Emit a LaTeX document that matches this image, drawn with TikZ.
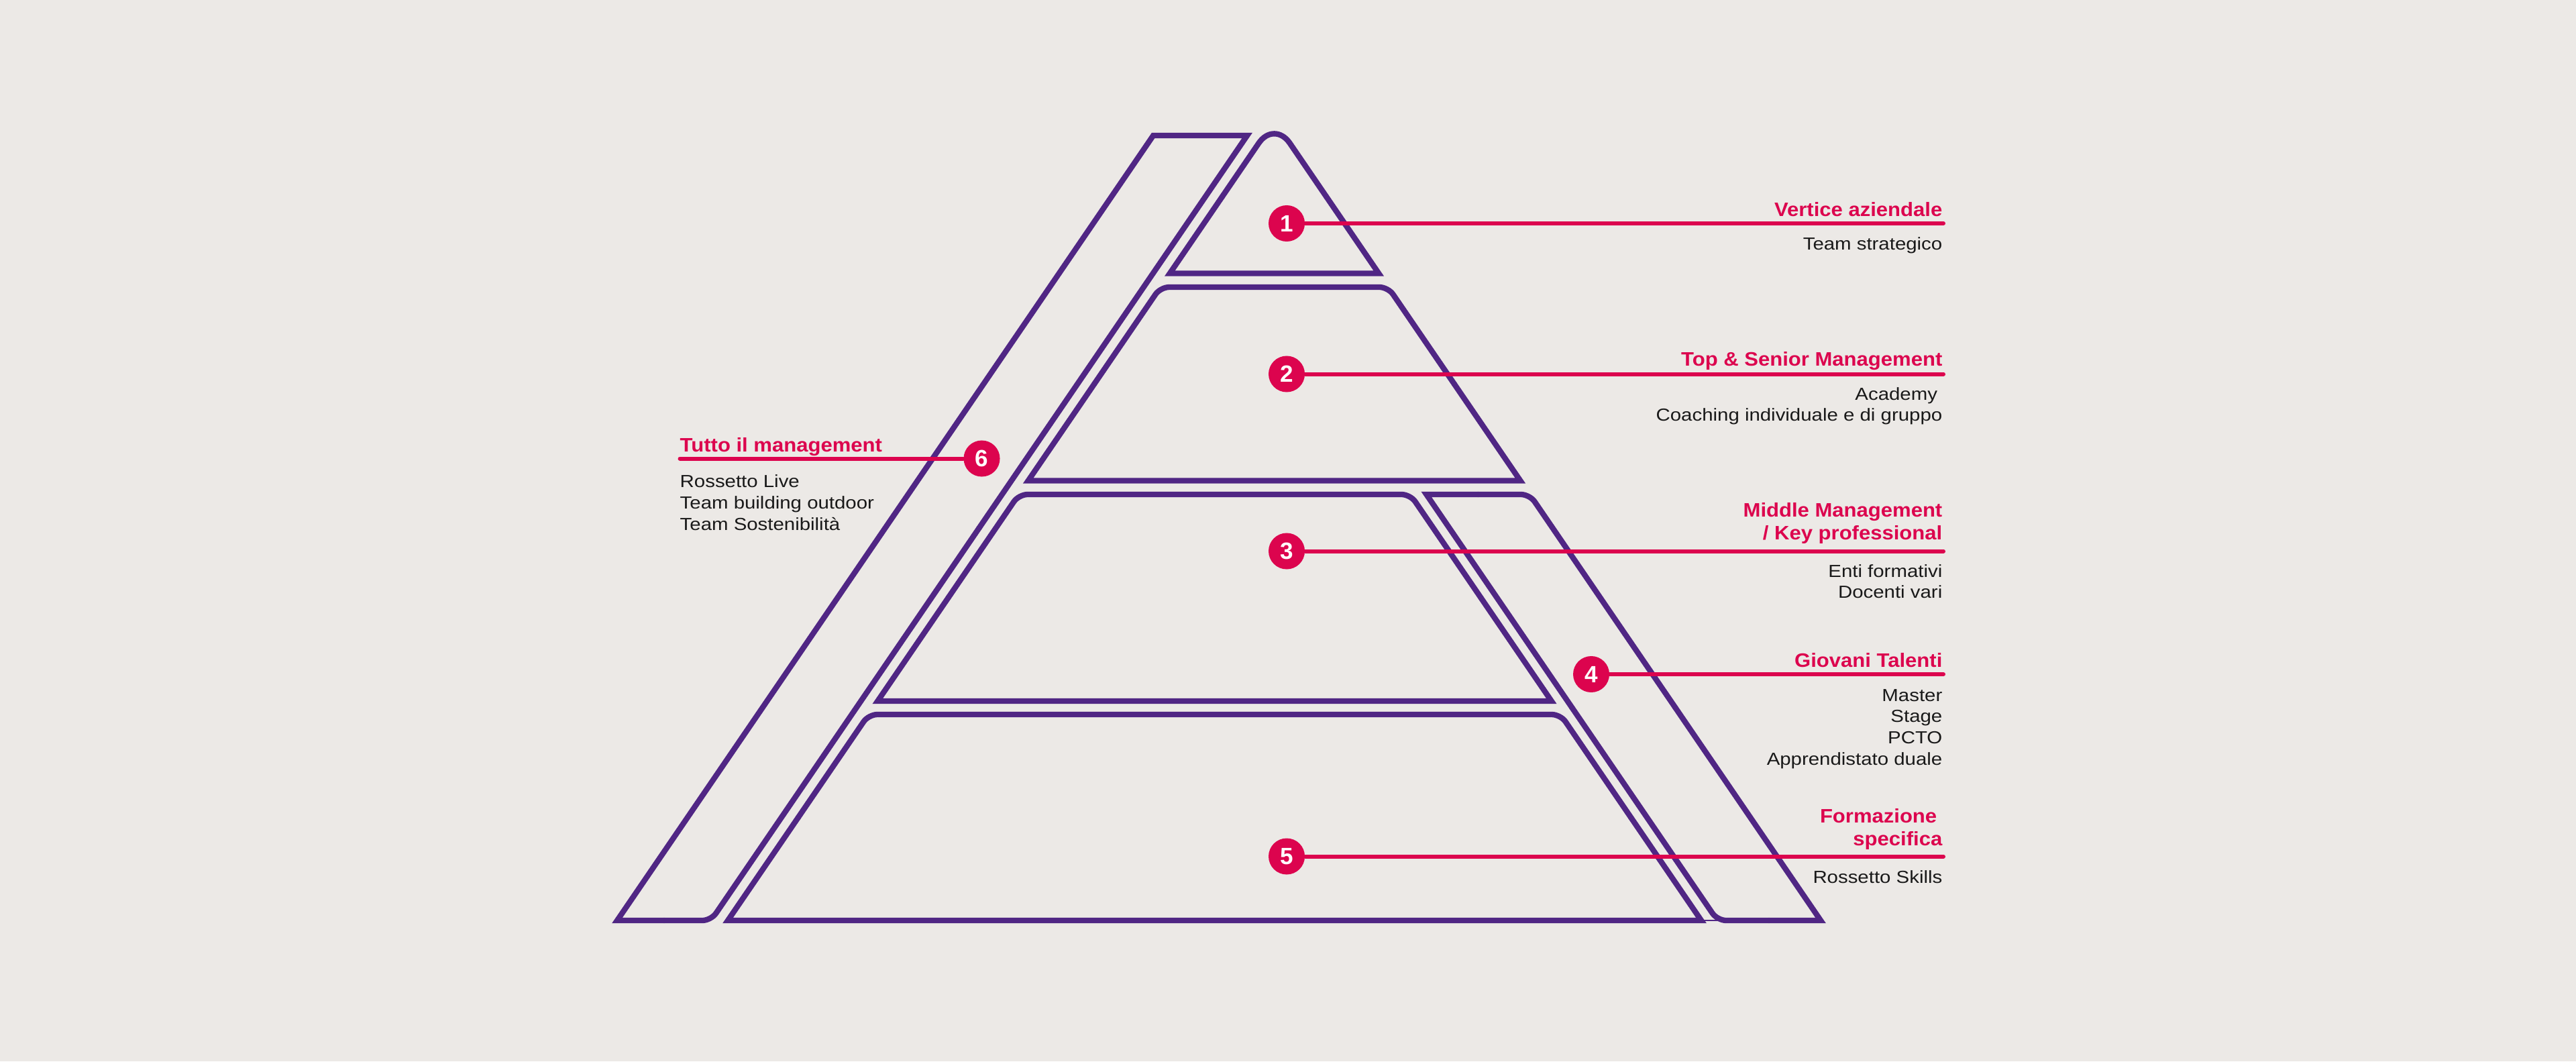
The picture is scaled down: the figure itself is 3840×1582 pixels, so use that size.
\documentclass[tikz,border=0pt]{standalone}
\usepackage{fontspec}
\setmainfont{Liberation Sans}
\newfontfamily\regfont[FakeStretch=1.13]{Liberation Sans}
\newfontfamily\ttlfont[FakeStretch=1.07]{Liberation Sans}
\usetikzlibrary{calc}
\definecolor{bgc}{RGB}{236,233,230}
\definecolor{pur}{RGB}{80,38,132}
\definecolor{crim}{RGB}{220,4,78}
\definecolor{ink}{RGB}{25,25,25}
\newcommand{\rlines}[1]{\begin{tabular}[t]{@{}r@{}}#1\end{tabular}}
\newcommand{\llines}[1]{\begin{tabular}[t]{@{}l@{}}#1\end{tabular}}
\begin{document}
\begin{tikzpicture}[x=0.01cm,y=-0.01cm,
  tier/.style={draw=pur,line width=0.083cm,line cap=round,line join=miter},
  rtier/.style={tier,rounded corners=0.13cm},
  apexline/.style={tier,rounded corners=0.41cm},
  redline/.style={draw=crim,line width=0.06cm,line cap=round},
  numcirc/.style={circle,fill=crim,minimum size=0.54cm,inner sep=0pt,text=white,font=\bfseries\fontsize{9.96}{12}\selectfont},
  ttl/.style={inner sep=0pt,text=crim,font=\ttlfont\bfseries\fontsize{8.25}{9.67}\selectfont},
  bdy/.style={inner sep=0pt,text=ink,font=\regfont\fontsize{7.4}{9.02}\selectfont},
]
\fill[bgc] (0,0) rectangle (3840,1582);
\useasboundingbox (0,0) rectangle (3840,1582);

% vertices
\coordinate (t1a) at (1899.5,179.5);
\coordinate (t1l) at (1743.8,407.5);
\coordinate (t1r) at (2055.2,407.5);
\coordinate (t2tl) at (1729.8,428);
\coordinate (t2tr) at (2069.2,428);
\coordinate (t2bl) at (1532.7,716.5);
\coordinate (t2br) at (2266.3,716.5);
\coordinate (t3tl) at (1518.7,737);
\coordinate (t3tr) at (2102.3,737);
\coordinate (t3bl) at (1308.3,1045);
\coordinate (t3br) at (2312.7,1045);
\coordinate (t5tl) at (1294.7,1065);
\coordinate (t5tr) at (2326.3,1065);
\coordinate (t5bl) at (1085,1372);
\coordinate (t5br) at (2536,1372);
\coordinate (t4tl) at (2126.3,737);
\coordinate (t4tr) at (2280.3,737);
\coordinate (t4bl) at (2560,1372);
\coordinate (t4br) at (2714,1372);
\coordinate (b6tl) at (1719.1,202);
\coordinate (b6tr) at (1859.1,202);
\coordinate (b6bl) at (920,1372);
\coordinate (b6br) at (1060,1372);

% tier 1
\draw[apexline] ($(t1l)!0.5!(t1a)$) -- (t1a) -- ($(t1a)!0.5!(t1r)$);
\draw[tier] ($(t1a)!0.5!(t1r)$) -- (t1r) -- (t1l) -- ($(t1l)!0.5!(t1a)$);
% tier 2
\draw[rtier] ($(t2bl)!0.5!(t2tl)$) -- (t2tl) -- (t2tr) -- ($(t2tr)!0.5!(t2br)$);
\draw[tier] ($(t2tr)!0.5!(t2br)$) -- (t2br) -- (t2bl) -- ($(t2bl)!0.5!(t2tl)$);
% tier 3
\draw[rtier] ($(t3bl)!0.5!(t3tl)$) -- (t3tl) -- (t3tr) -- ($(t3tr)!0.5!(t3br)$);
\draw[tier] ($(t3tr)!0.5!(t3br)$) -- (t3br) -- (t3bl) -- ($(t3bl)!0.5!(t3tl)$);
% tier 5
\draw[rtier] ($(t5bl)!0.5!(t5tl)$) -- (t5tl) -- (t5tr) -- ($(t5tr)!0.5!(t5br)$);
\draw[tier] ($(t5tr)!0.5!(t5br)$) -- (t5br) -- (t5bl) -- ($(t5bl)!0.5!(t5tl)$);
% tier 4
\draw[rtier] ($(t4tl)!0.5!(t4tr)$) -- (t4tr) -- ($(t4tr)!0.5!(t4br)$);
\draw[tier] ($(t4tr)!0.5!(t4br)$) -- (t4br) -- ($(t4br)!0.5!(t4bl)$);
\draw[rtier] ($(t4br)!0.5!(t4bl)$) -- (t4bl) -- ($(t4bl)!0.5!(t4tl)$);
\draw[tier] ($(t4bl)!0.5!(t4tl)$) -- (t4tl) -- ($(t4tl)!0.5!(t4tr)$);
% band 6
\draw[rtier] ($(b6bl)!0.5!(b6br)$) -- (b6br) -- ($(b6br)!0.5!(b6tr)$);
\draw[tier] ($(b6br)!0.5!(b6tr)$) -- (b6tr) -- (b6tl) -- (b6bl) -- ($(b6bl)!0.5!(b6br)$);
% thin joint at base
\draw[pur,line width=0.025cm] (t5br) -- (t4bl);

% number circles and leader lines
\node[numcirc] (c1) at (1918,333) {1};
\node[numcirc] (c2) at (1918,557.5) {2};
\node[numcirc] (c3) at (1918,821.5) {3};
\node[numcirc] (c4) at (2372,1005) {4};
\node[numcirc] (c5) at (1918,1276.5) {5};
\node[numcirc] (c6) at (1463.5,683.5) {6};
\coordinate (e1) at (2897,333);
\coordinate (e2) at (2897,557.5);
\coordinate (e3) at (2897,821.5);
\coordinate (e4) at (2897,1005);
\coordinate (e5) at (2897,1276.5);
\coordinate (e6) at (1013.5,683.5);
\draw[redline] (c1) -- (e1);
\draw[redline] (c2) -- (e2);
\draw[redline] (c3) -- (e3);
\draw[redline] (c4) -- (e4);
\draw[redline] (c5) -- (e5);
\draw[redline] (c6) -- (e6);

% labels
\node[ttl,anchor=base east] (h1) at (2896,322) {Vertice aziendale};
\node[bdy,anchor=base east] (d1) at (2896,372.5) {Team strategico};
\node[ttl,anchor=base east] (h2) at (2896,545) {Top \& Senior Management};
\node[bdy,anchor=base east] (d2) at (2896,596) {\rlines{Academy\kern0.28em\\Coaching individuale e di gruppo}};
\node[ttl,anchor=base east] (h3) at (2896,770.5) {\rlines{Middle Management\\/ Key professional}};
\node[bdy,anchor=base east] (d3) at (2896,860) {\rlines{Enti formativi\\Docenti vari}};
\node[ttl,anchor=base east] (h4) at (2896,994) {Giovani Talenti};
\node[bdy,anchor=base east] (d4) at (2896,1045) {\rlines{Master\\Stage\\PCTO\\Apprendistato duale}};
\node[ttl,anchor=base east] (h5) at (2896,1226.7) {\rlines{Formazione\kern0.28em\\specifica}};
\node[bdy,anchor=base east] (d5) at (2896,1316.7) {Rossetto Skills};
\node[ttl,anchor=base west] (h6) at (1013,673.3) {Tutto il management};
\node[bdy,anchor=base west] (d6) at (1013,726.7) {\llines{Rossetto Live\\Team building outdoor\\Team Sostenibilità}};
\end{tikzpicture}
\end{document}
